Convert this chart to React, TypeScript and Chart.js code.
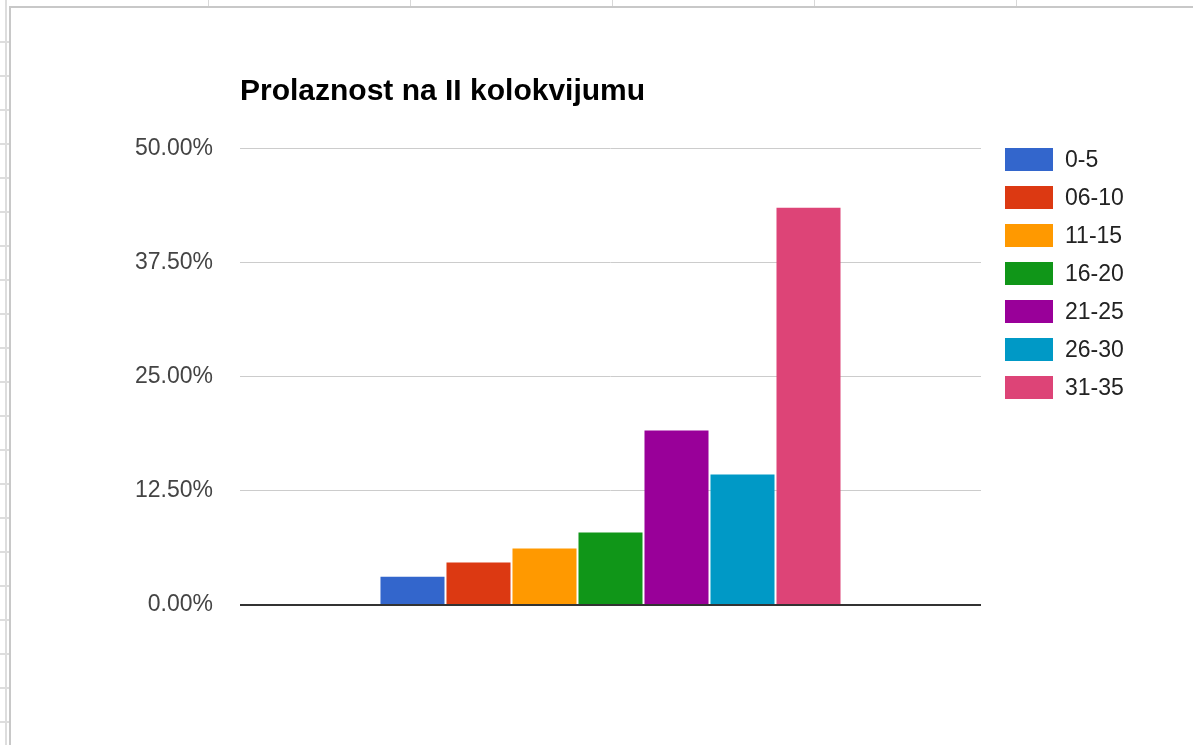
import React, { useEffect, useRef } from "react";
import { Chart, registerables } from "chart.js";

Chart.register(...registerables);

const TITLE = "Prolaznost na II kolokvijumu";
const seriesNames = ["0-5", "06-10", "11-15", "16-20", "21-25", "26-30", "31-35"];
const seriesValues = [3.1, 4.65, 6.2, 7.95, 19.1, 14.3, 43.5];
const seriesColors = ["#3366cc", "#dc3912", "#ff9900", "#109618", "#990099", "#0099c6", "#dd4477"];
const yTicks = [0, 12.5, 25, 37.5, 50];

const FONT = "Arial, 'Liberation Sans', sans-serif";

export default function App() {
  const ref = useRef<HTMLCanvasElement | null>(null);

  useEffect(() => {
    if (!ref.current) return;
    const chart = new Chart(ref.current, {
      type: "bar",
      data: {
        labels: [""],
        datasets: seriesNames.map((name, i) => ({
          label: name,
          data: [seriesValues[i]],
          backgroundColor: seriesColors[i],
          borderWidth: 0,
          categoryPercentage: 0.6235,
          barPercentage: 0.97,
        })),
      },
      options: {
        responsive: false,
        animation: false,
        layout: { padding: { left: 0, right: 212, top: 0, bottom: 140 } },
        plugins: {
          legend: { display: false },
          tooltip: { enabled: false },
          title: {
            display: true,
            text: TITLE,
            align: "start",
            fullSize: false,
            color: "#000",
            font: { family: FONT, size: 30, weight: "bold" },
            padding: { top: 73.5, bottom: 39 },
          },
        },
        scales: {
          x: { display: false },
          y: {
            min: 0,
            max: 50,
            afterFit: (scale: any) => {
              scale.width = 240;
            },
            afterBuildTicks: (scale: any) => {
              scale.ticks = yTicks.map((v) => ({ value: v }));
            },
            border: { display: false },
            grid: {
              drawTicks: false,
              color: (ctx: any) => (ctx.tick && ctx.tick.value === 0 ? "#333333" : "#cccccc"),
              lineWidth: (ctx: any) => (ctx.tick && ctx.tick.value === 0 ? 2 : 1),
            },
            ticks: {
              padding: 27,
              color: "#444444",
              font: { family: FONT, size: 23 },
              callback: (v: any) => Number(v).toFixed(2) + "%",
            },
          },
        },
      },
    });
    return () => chart.destroy();
  }, []);

  const rowTicks: number[] = [];
  for (let y = 41; y < 745; y += 34) rowTicks.push(y);
  const colLines = [208, 410, 612, 814, 1016];

  return (
    <div style={{ position: "absolute", left: 0, top: 0, width: 1193, height: 745, background: "#fff", overflow: "hidden" }}>
      {/* spreadsheet frame */}
      <div style={{ position: "absolute", left: 5, top: 0, width: 2, height: 745, background: "#dddddd" }} />
      <div style={{ position: "absolute", left: 9, top: 6, width: 2, height: 739, background: "#c8c8c8" }} />
      <div style={{ position: "absolute", left: 9, top: 6, width: 1184, height: 2, background: "#c8c8c8" }} />
      {colLines.map((x) => (
        <div key={"c" + x} style={{ position: "absolute", left: x, top: 0, width: 1, height: 6, background: "#d8d8d8" }} />
      ))}
      {rowTicks.map((y) => (
        <div key={"r" + y} style={{ position: "absolute", left: 0, top: y, width: 9, height: 2, background: "#dddddd" }} />
      ))}
      <canvas ref={ref} width={1193} height={745} style={{ position: "absolute", left: 0, top: 0 }} />
      {/* legend */}
      {seriesNames.map((name, i) => (
        <div
          key={name}
          style={{ position: "absolute", left: 1005, top: 148 + i * 38, height: 23, display: "flex", alignItems: "center" }}
        >
          <div style={{ width: 48, height: 23, background: seriesColors[i] }} />
          <span style={{ marginLeft: 12, fontFamily: FONT, fontSize: 23, color: "#222", lineHeight: "23px" }}>{name}</span>
        </div>
      ))}
    </div>
  );
}
